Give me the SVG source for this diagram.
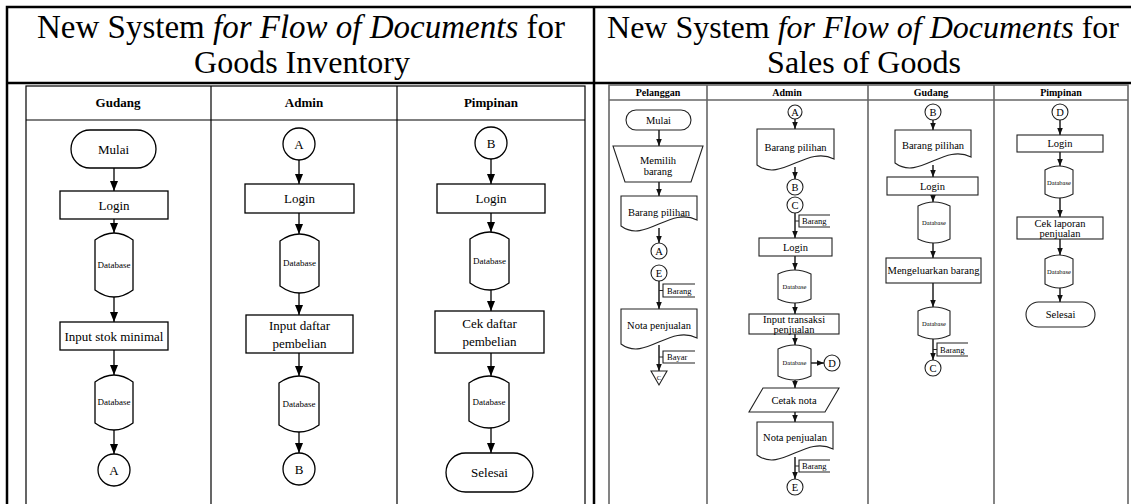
<svg xmlns="http://www.w3.org/2000/svg" width="1131" height="504" viewBox="0 0 1131 504" font-family="'Liberation Serif', 'DejaVu Serif', 'Times New Roman', serif">
<defs>
<marker id="ah" viewBox="0 0 10 8" refX="10" refY="4" markerWidth="10" markerHeight="8" markerUnits="userSpaceOnUse" orient="auto"><path d="M0,0 L10,4 L0,8 Z" fill="#000"/></marker>
<marker id="as" viewBox="0 0 10 8" refX="10" refY="4" markerWidth="7" markerHeight="6" markerUnits="userSpaceOnUse" orient="auto"><path d="M0,0 L10,4 L0,8 Z" fill="#111"/></marker>
</defs>
<style>
text{font-family:'Liberation Serif','DejaVu Serif','Times New Roman',serif;fill:#000;text-anchor:middle}
.title{font-size:32px}
.it{font-style:italic}
.hl{font-size:13px;font-weight:bold}
.tl{font-size:13px}
.dbl{font-size:9px}
.hr{font-size:10px;font-weight:bold}
.tr{font-size:10.5px}
.dbr{font-size:6.5px}
.ann{font-size:8.5px;text-anchor:start}
.frame{fill:none;stroke:#000;stroke-width:2.5}
.tbl{fill:none;stroke:#000;stroke-width:1.2}
.tbr{fill:none;stroke:#666;stroke-width:1.6}
.sl{fill:#fff;stroke:#000;stroke-width:1.3}
.sr{fill:#fff;stroke:#222;stroke-width:1.1}
.cl{fill:none;stroke:#000;stroke-width:1.3;marker-end:url(#ah)}
.cr{fill:none;stroke:#111;stroke-width:1.4;marker-end:url(#as)}
.br{fill:none;stroke:#222;stroke-width:1.1}
</style>

<g id="frame">
<rect class="frame" x="7" y="7" width="1140" height="510"/>
<line class="frame" x1="7" y1="83" x2="1131" y2="83"/>
<line class="frame" x1="594" y1="7" x2="594" y2="504"/>
</g>

<g id="titles">
<text class="title" x="301" y="38" style="font-size:33px">New System <tspan class="it">for Flow of Documents</tspan> for</text>
<text class="title" x="302" y="73">Goods Inventory</text>
<text class="title" x="863" y="38">New System <tspan class="it">for Flow of Documents</tspan> for</text>
<text class="title" x="864" y="73">Sales of Goods</text>
</g>

<!-- LEFT PANEL -->
<g id="left-lanes">
<rect class="tbl" x="26" y="86" width="559" height="430"/>
<line class="tbl" x1="26" y1="120" x2="585" y2="120"/>
<line class="tbl" x1="211" y1="86" x2="211" y2="504"/>
<line class="tbl" x1="397" y1="86" x2="397" y2="504"/>
<text class="hl" x="118" y="107">Gudang</text>
<text class="hl" x="304" y="107">Admin</text>
<text class="hl" x="491" y="107">Pimpinan</text>
</g>

<g id="left-connectors">
<line class="cl" x1="114" y1="168" x2="114" y2="191"/>
<line class="cl" x1="114" y1="219" x2="114" y2="233"/>
<line class="cl" x1="114" y1="297" x2="114" y2="322"/>
<line class="cl" x1="114" y1="350" x2="114" y2="375"/>
<line class="cl" x1="114" y1="430" x2="114" y2="454"/>
<line class="cl" x1="299" y1="160" x2="299" y2="184"/>
<line class="cl" x1="299" y1="213" x2="299" y2="234"/>
<line class="cl" x1="299" y1="293" x2="299" y2="315"/>
<line class="cl" x1="299" y1="353" x2="299" y2="376"/>
<line class="cl" x1="299" y1="432" x2="299" y2="453"/>
<line class="cl" x1="491" y1="159" x2="491" y2="184"/>
<line class="cl" x1="491" y1="213" x2="491" y2="232"/>
<line class="cl" x1="491" y1="290" x2="491" y2="311"/>
<line class="cl" x1="491" y1="353" x2="491" y2="376"/>
<line class="cl" x1="491" y1="428" x2="491" y2="453"/>
</g>

<g id="lg-mulai"><rect class="sl" x="71" y="130" width="85" height="38" rx="19"/><text class="tl" x="113.5" y="153.5">Mulai</text></g>
<g id="lg-login"><rect class="sl" x="60" y="191" width="108" height="28"/><text class="tl" x="114" y="209.5">Login</text></g>
<g id="lg-db1"><path class="sl" d="M95,240 Q114,226 133,240 V290 Q114,304 95,290 Z"/><text class="dbl" x="114" y="268">Database</text></g>
<g id="lg-input"><rect class="sl" x="60" y="322" width="108" height="28"/><text class="tl" x="114" y="340.5">Input stok minimal</text></g>
<g id="lg-db2"><path class="sl" d="M95,382 Q114,368 133,382 V423 Q114,437 95,423 Z"/><text class="dbl" x="114" y="405">Database</text></g>
<g id="lg-a"><circle class="sl" cx="114" cy="470" r="16"/><text class="tl" x="114" y="474.5">A</text></g>

<g id="la-a"><circle class="sl" cx="299" cy="144" r="16"/><text class="tl" x="299" y="148.5">A</text></g>
<g id="la-login"><rect class="sl" x="245" y="184" width="109" height="29"/><text class="tl" x="299.5" y="203">Login</text></g>
<g id="la-db1"><path class="sl" d="M280,241 Q299.5,227 319,241 V286 Q299.5,300 280,286 Z"/><text class="dbl" x="299.5" y="266">Database</text></g>
<g id="la-input"><rect class="sl" x="246" y="315" width="107" height="38"/><text class="tl" x="299.5" y="330">Input daftar</text><text class="tl" x="299.5" y="347.5">pembelian</text></g>
<g id="la-db2"><path class="sl" d="M279,383 Q299,369 319,383 V425 Q299,439 279,425 Z"/><text class="dbl" x="299" y="407">Database</text></g>
<g id="la-b"><circle class="sl" cx="299" cy="469" r="16"/><text class="tl" x="299" y="473.5">B</text></g>

<g id="lp-b"><circle class="sl" cx="491" cy="143" r="16"/><text class="tl" x="491" y="147.5">B</text></g>
<g id="lp-login"><rect class="sl" x="437" y="184" width="108" height="29"/><text class="tl" x="491" y="203">Login</text></g>
<g id="lp-db1"><path class="sl" d="M470,239 Q489.5,225 509,239 V283 Q489.5,297 470,283 Z"/><text class="dbl" x="489.5" y="264">Database</text></g>
<g id="lp-cek"><rect class="sl" x="435" y="311" width="109" height="42"/><text class="tl" x="489.5" y="327.5">Cek daftar</text><text class="tl" x="489.5" y="346">pembelian</text></g>
<g id="lp-db2"><path class="sl" d="M469,383 Q489,369 509,383 V421 Q489,435 469,421 Z"/><text class="dbl" x="489" y="405">Database</text></g>
<g id="lp-selesai"><rect class="sl" x="446" y="453" width="87" height="39" rx="19.5"/><text class="tl" x="489.5" y="477">Selesai</text></g>

<!-- RIGHT PANEL -->
<g id="right-lanes">
<rect class="tbr" x="609" y="85" width="519" height="440"/>
<line class="tbr" x1="609" y1="100" x2="1128" y2="100"/>
<line class="tbr" x1="707" y1="85" x2="707" y2="504"/>
<line class="tbr" x1="868" y1="85" x2="868" y2="504"/>
<line class="tbr" x1="994" y1="85" x2="994" y2="504"/>
<text class="hr" x="658" y="96">Pelanggan</text>
<text class="hr" x="787" y="96">Admin</text>
<text class="hr" x="931" y="96">Gudang</text>
<text class="hr" x="1061" y="96">Pimpinan</text>
</g>

<g id="right-connectors">
<line class="cr" x1="659" y1="130" x2="659" y2="146"/>
<line class="cr" x1="659" y1="182" x2="659" y2="196"/>
<line class="cr" x1="659" y1="228" x2="659" y2="243"/>
<line class="cr" x1="659" y1="281" x2="659" y2="309"/>
<line class="cr" x1="659" y1="345" x2="659" y2="371"/>
<line class="cr" x1="795" y1="119" x2="795" y2="129"/>
<line class="cr" x1="795" y1="167" x2="795" y2="179"/>
<line class="cr" x1="795" y1="213" x2="795" y2="238"/>
<line class="cr" x1="795" y1="256" x2="795" y2="270"/>
<line class="cr" x1="795" y1="303" x2="795" y2="314"/>
<line class="cr" x1="795" y1="334" x2="795" y2="345"/>
<line class="cr" x1="811" y1="363" x2="824" y2="363"/>
<line class="cr" x1="795" y1="380" x2="795" y2="388"/>
<line class="cr" x1="795" y1="412" x2="795" y2="422"/>
<line class="cr" x1="795" y1="457" x2="795" y2="479"/>
<line class="cr" x1="933" y1="120" x2="933" y2="130"/>
<line class="cr" x1="933" y1="165" x2="933" y2="177"/>
<line class="cr" x1="933" y1="195" x2="933" y2="202"/>
<line class="cr" x1="933" y1="243" x2="933" y2="258"/>
<line class="cr" x1="933" y1="283" x2="933" y2="307"/>
<line class="cr" x1="933" y1="339" x2="933" y2="360"/>
<line class="cr" x1="1060" y1="120" x2="1060" y2="135"/>
<line class="cr" x1="1060" y1="152" x2="1060" y2="166"/>
<line class="cr" x1="1060" y1="198" x2="1060" y2="217"/>
<line class="cr" x1="1060" y1="239" x2="1060" y2="255"/>
<line class="cr" x1="1060" y1="288" x2="1060" y2="302"/>
<path class="br" d="M659,290.5 H663 M695,284 H663 V297 H695"/>
<path class="br" d="M659,357 H663 M695,351 H663 V363 H695"/>
<path class="br" d="M795,221 H799 M830,215 H799 V227 H830"/>
<path class="br" d="M795,466 H799 M830,460 H799 V472 H830"/>
<path class="br" d="M933,349.5 H937 M968,343 H937 V356 H968"/>
<text class="ann" x="667" y="293.5">Barang</text>
<text class="ann" x="667" y="360">Bayar</text>
<text class="ann" x="802" y="224">Barang</text>
<text class="ann" x="802" y="469">Barang</text>
<text class="ann" x="940" y="352.5">Barang</text>
</g>

<g id="rp-mulai"><rect class="sr" x="626" y="110" width="65" height="20" rx="10"/><text class="tr" x="658.5" y="123.5">Mulai</text></g>
<g id="rp-memilih"><path class="sr" d="M613,146 H703 L691,182 H625 Z"/><text class="tr" x="658" y="164">Memilih</text><text class="tr" x="658" y="175">barang</text></g>
<g id="rp-barang"><path class="sr" d="M621,196 H697 V220 C670,206 645,244 621,226 Z"/><text class="tr" x="659" y="216">Barang pilihan</text></g>
<g id="rp-a"><circle class="sr" cx="659" cy="251" r="8"/><text class="tr" x="659" y="254.5">A</text></g>
<g id="rp-e"><circle class="sr" cx="659" cy="273" r="8"/><text class="tr" x="659" y="276.5">E</text></g>
<g id="rp-nota"><path class="sr" d="M621,309 H697 V338 C670,324 645,362 621,344 Z"/><text class="tr" x="659" y="328.5">Nota penjualan</text></g>
<g id="rp-c"><path class="sr" d="M651,371 H667 L659,385 Z"/><text class="dbr" x="659" y="380">C</text></g>

<g id="ra-a"><circle class="sr" cx="795" cy="112" r="7"/><text class="tr" x="795" y="115.5">A</text></g>
<g id="ra-barang"><path class="sr" d="M757,129 H834 V159 C807,145 781,183 757,165 Z"/><text class="tr" x="795.5" y="150.5">Barang pilihan</text></g>
<g id="ra-b"><circle class="sr" cx="795" cy="187" r="8"/><text class="tr" x="795" y="190.5">B</text></g>
<g id="ra-c"><circle class="sr" cx="795" cy="205" r="8"/><text class="tr" x="795" y="208.5">C</text></g>
<g id="ra-login"><rect class="sr" x="759" y="238" width="73" height="18"/><text class="tr" x="795.5" y="250.5">Login</text></g>
<g id="ra-db1"><path class="sr" d="M778,274 Q794.5,266 811,274 V299 Q794.5,307 778,299 Z"/><text class="dbr" x="794.5" y="289">Database</text></g>
<g id="ra-input"><rect class="sr" x="749" y="314" width="90" height="20"/><text class="tr" x="794" y="323">Input transaksi</text><text class="tr" x="794" y="332.5">penjualan</text></g>
<g id="ra-db2"><path class="sr" d="M778,349 Q794.5,341 811,349 V376 Q794.5,384 778,376 Z"/><text class="dbr" x="794.5" y="365">Database</text></g>
<g id="ra-d"><circle class="sr" cx="832" cy="363" r="8"/><text class="tr" x="832" y="366.5">D</text></g>
<g id="ra-cetak"><path class="sr" d="M763,388 H839 L825,412 H749 Z"/><text class="tr" x="794" y="403.5">Cetak nota</text></g>
<g id="ra-nota"><path class="sr" d="M757,422 H833 V449 C806,435 781,473 757,455 Z"/><text class="tr" x="795" y="440.5">Nota penjualan</text></g>
<g id="ra-e"><circle class="sr" cx="795" cy="487" r="8"/><text class="tr" x="795" y="490.5">E</text></g>

<g id="rg-b"><circle class="sr" cx="933" cy="112" r="8"/><text class="tr" x="933" y="115.5">B</text></g>
<g id="rg-barang"><path class="sr" d="M895,130 H971 V157 C944,143 919,181 895,163 Z"/><text class="tr" x="933" y="148.5">Barang pilihan</text></g>
<g id="rg-login"><rect class="sr" x="887" y="177" width="91" height="18"/><text class="tr" x="932.5" y="189.5">Login</text></g>
<g id="rg-db1"><path class="sr" d="M918,206 Q934,198 950,206 V239 Q934,247 918,239 Z"/><text class="dbr" x="934" y="225">Database</text></g>
<g id="rg-keluar"><rect class="sr" x="886" y="258" width="95" height="25"/><text class="tr" x="933.5" y="274">Mengeluarkan barang</text></g>
<g id="rg-db2"><path class="sr" d="M918,311 Q934,303 950,311 V335 Q934,343 918,335 Z"/><text class="dbr" x="934" y="326">Database</text></g>
<g id="rg-c"><circle class="sr" cx="933" cy="368" r="8"/><text class="tr" x="933" y="371.5">C</text></g>

<g id="rk-d"><circle class="sr" cx="1060" cy="112" r="8"/><text class="tr" x="1060" y="115.5">D</text></g>
<g id="rk-login"><rect class="sr" x="1017" y="135" width="86" height="17"/><text class="tr" x="1060" y="147">Login</text></g>
<g id="rk-db1"><path class="sr" d="M1045,170 Q1059,162 1073,170 V194 Q1059,202 1045,194 Z"/><text class="dbr" x="1059" y="185">Database</text></g>
<g id="rk-cek"><rect class="sr" x="1017" y="217" width="86" height="22"/><text class="tr" x="1060" y="227">Cek laporan</text><text class="tr" x="1060" y="237">penjualan</text></g>
<g id="rk-db2"><path class="sr" d="M1045,259 Q1059,251 1073,259 V284 Q1059,292 1045,284 Z"/><text class="dbr" x="1059" y="274">Database</text></g>
<g id="rk-selesai"><rect class="sr" x="1026" y="302" width="69" height="25" rx="12.5"/><text class="tr" x="1060.5" y="318">Selesai</text></g>
</svg>
